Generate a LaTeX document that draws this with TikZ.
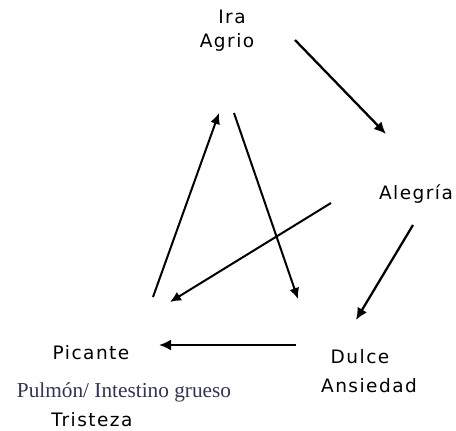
\documentclass[tikz,border=0pt]{standalone}
\usepackage{fontspec}
\setmainfont{DejaVu Sans}[LetterSpace=8]
\newfontfamily\serifpul{Liberation Serif}
\usetikzlibrary{arrows.meta}
\definecolor{pulcol}{RGB}{50,52,80}
\tikzset{
  lbl/.style={font=\fontsize{18.5}{21}\selectfont, text=black, inner sep=0pt},
  arr/.style={line width=2.3pt, -{Latex[length=12pt,width=11pt]}},
  sarr/.style={line width=2pt, -{Latex[length=11pt,width=10pt]}}
}
\begin{document}
\begin{tikzpicture}[x=1pt,y=-1pt]
\useasboundingbox (0,0) rectangle (456,431);
\fill[white] (0,0) rectangle (456,431);
\node[lbl] (ira) at (232,17) {Ira};
\node[lbl] (agrio) at (227,42) {Agrio};
\node[lbl] (alegria) at (416,194) {Alegría};
\node[lbl] (dulce) at (360,357) {Dulce};
\node[lbl] (ansiedad) at (369,386) {Ansiedad};
\node[lbl] (picante) at (91,353) {Picante};
\node[inner sep=0pt, text=pulcol, font=\serifpul\fontsize{21.3}{23}\selectfont] (pulmon) at (124,392) {Pulmón/ Intestino grueso};
\node[lbl] (tristeza) at (92,420) {Tristeza};
% coordinates for connector ends
\coordinate (a1) at (295,40);  \coordinate (a2) at (386,134);
\coordinate (b1) at (413,225); \coordinate (b2) at (356,320);
\coordinate (c1) at (296,345); \coordinate (c2) at (159,345);
\coordinate (d1) at (153,297); \coordinate (d2) at (219,113);
\coordinate (e1) at (234,113); \coordinate (e2) at (298,299);
\coordinate (f1) at (331,203); \coordinate (f2) at (170,302);
\draw[arr] (a1) -- (a2);
\draw[arr] (b1) -- (b2);
\draw[arr] (c1) -- (c2);
\draw[sarr] (d1) -- (d2);
\draw[sarr] (e1) -- (e2);
\draw[sarr] (f1) -- (f2);
\end{tikzpicture}
\end{document}
